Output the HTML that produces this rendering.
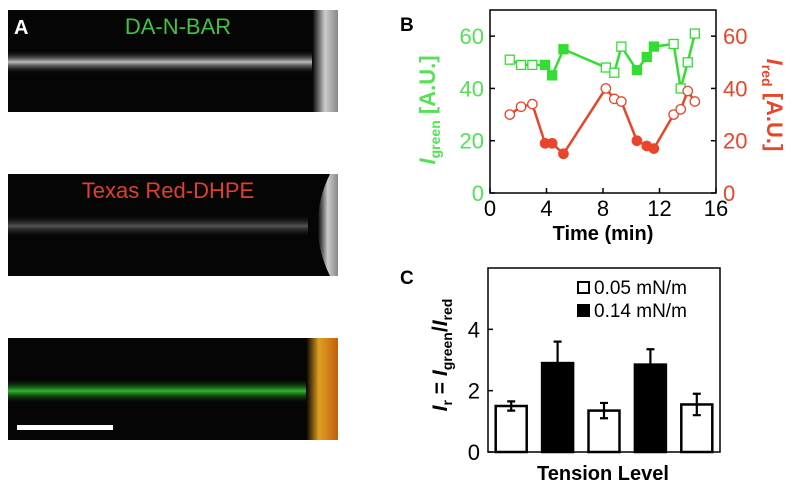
<!DOCTYPE html>
<html><head><meta charset="utf-8"><style>
body{margin:0;background:#fff;font-family:"Liberation Sans",sans-serif}
svg{display:block}
</style></head><body>
<svg width="800" height="493" viewBox="0 0 800 493" font-family="Liberation Sans, sans-serif">
<defs>
<linearGradient id="tubeW" x1="0" y1="0" x2="0" y2="1"><stop offset="0" stop-color="#000" stop-opacity="0"/><stop offset="0.5" stop-color="#bbb"/><stop offset="1" stop-color="#000" stop-opacity="0"/></linearGradient>
<linearGradient id="tubeW2" x1="0" y1="0" x2="0" y2="1"><stop offset="0" stop-color="#000" stop-opacity="0"/><stop offset="0.5" stop-color="#555"/><stop offset="1" stop-color="#000" stop-opacity="0"/></linearGradient>
<linearGradient id="tubeG" x1="0" y1="0" x2="0" y2="1"><stop offset="0" stop-color="#000" stop-opacity="0"/><stop offset="0.5" stop-color="#2eb82e"/><stop offset="1" stop-color="#000" stop-opacity="0"/></linearGradient>
<linearGradient id="edgeW" x1="0" y1="0" x2="1" y2="0"><stop offset="0" stop-color="#000"/><stop offset="0.5" stop-color="#ccc"/><stop offset="1" stop-color="#888"/></linearGradient>
<linearGradient id="edgeO" x1="0" y1="0" x2="1" y2="0"><stop offset="0" stop-color="#000"/><stop offset="0.4" stop-color="#e0a020"/><stop offset="1" stop-color="#c06010"/></linearGradient>
</defs>
<g>
<rect x="8" y="10" width="330" height="102" fill="#050505"/>
<rect x="8" y="50" width="310" height="24" fill="url(#tubeW)"/>
<rect x="312" y="10" width="26" height="102" fill="url(#edgeW)"/>
<text x="14" y="34" font-size="20" font-weight="bold" fill="#fff">A</text>
<text x="178" y="34" font-size="22" fill="#3ec43e" text-anchor="middle">DA-N-BAR</text>
<rect x="8" y="174" width="330" height="102" fill="#050505"/>
<rect x="8" y="214" width="300" height="24" fill="url(#tubeW2)"/>
<path d="M338 174 L330 174 Q305 225 330 276 L338 276 Z" fill="url(#edgeW)"/>
<text x="168" y="198" font-size="22" fill="#e0402a" text-anchor="middle">Texas Red-DHPE</text>
<rect x="8" y="338" width="330" height="102" fill="#050505"/>
<rect x="8" y="378" width="305" height="26" fill="url(#tubeG)"/>
<rect x="306" y="338" width="32" height="102" fill="url(#edgeO)"/>
<rect x="17" y="425" width="96" height="5" fill="#fff"/>
</g>
<g id="chartB"></g>
<g id="chartC"></g>
</svg>
<script>
const timeG=[1.4,2.2,3.0,3.9,4.4,5.2,8.2,8.8,9.3,10.4,11.1,11.6,13.0,13.5,14.0,14.5];
const greenVals=[51,49,49,49,45,55,48,46,56,47,52,56,57,40,50,61];
const redVals=[30,33,34,19,19,15,40,36,35,20,18,17,30,32,39,35];
const filledFlags=[0,0,0,1,1,1,0,0,0,1,1,1,0,0,0,0];
const xTicksB=[0,4,8,12,16];
const yTicksB=[0,20,40,60];
const barVals=[1.5,2.9,1.35,2.85,1.55];
const barErr=[0.15,0.7,0.25,0.5,0.35];
const barFill=[0,1,0,1,0];
const yTicksC=[0,2,4];
const NS="http://www.w3.org/2000/svg";
function mk(p,t,a,txt){const e=document.createElementNS(NS,t);for(const k in a)e.setAttribute(k,a[k]);if(txt!==undefined)e.textContent=txt;p.appendChild(e);return e;}
const GC='#55e055', RC='#e8452a';
// Panel B
const B=document.getElementById('chartB');
const bx0=490,bx1=716,by0=193,by1=10;
const xB=v=>bx0+(v/16)*(bx1-bx0), yB=v=>by0-(v/70)*(by0-by1);
let e=mk(B,'rect',{x:bx0,y:by1,width:bx1-bx0,height:by0-by1,fill:'none',stroke:'#000','stroke-width':1.5});


xTicksB.forEach(t=>{mk(B,'line',{x1:xB(t),x2:xB(t),y1:by0,y2:by0-5,stroke:'#000','stroke-width':1.5});
 e=mk(B,'text',{x:xB(t),y:by0+23,'font-size':22,'text-anchor':'middle',fill:'#000'},t);
 
 });
yTicksB.forEach(t=>{mk(B,'line',{x1:bx0,x2:bx0+5,y1:yB(t),y2:yB(t),stroke:'#000','stroke-width':1.5});
 mk(B,'line',{x1:bx1,x2:bx1-5,y1:yB(t),y2:yB(t),stroke:'#000','stroke-width':1.5});
 e=mk(B,'text',{x:bx0-6,y:yB(t)+8,'font-size':22,'text-anchor':'end',fill:GC},t);
 
 
 e=mk(B,'text',{x:bx1+7,y:yB(t)+8,'font-size':22,'text-anchor':'start',fill:RC},t);
 
 });
function series(vals,col,shape,name){
 let d=vals.map((v,i)=>(i?'L':'M')+xB(timeG[i])+' '+yB(v)).join(' ');
 e=mk(B,'path',{d:d,fill:'none',stroke:col,'stroke-width':2.5});
 
 
 vals.forEach((v,i)=>{const cx=xB(timeG[i]),cy=yB(v),f=filledFlags[i]?col:'#fff';
  if(shape==='sq') e=mk(B,'rect',{x:cx-4.5,y:cy-4.5,width:9,height:9,fill:f,stroke:col,'stroke-width':1.3});
  else e=mk(B,'circle',{cx:cx,cy:cy,r:4.7,fill:f,stroke:col,'stroke-width':1.3});
  
  });
}
series(greenVals,'#33dd33','sq','green');
series(redVals,RC,'ci','red');
e=mk(B,'text',{x:400,y:31,'font-size':19,'font-weight':'bold'},'B');


e=mk(B,'text',{x:603,y:240,'font-size':20,'font-weight':'bold','text-anchor':'middle'},'Time (min)');


e=mk(B,'text',{transform:'translate(435,110) rotate(-90)','font-size':22,'font-weight':'bold','text-anchor':'middle',fill:GC});
e.innerHTML='<tspan font-style="italic">I</tspan><tspan font-size="14" dy="5">green</tspan><tspan dy="-5"> [A.U.]</tspan>';


e=mk(B,'text',{transform:'translate(767,105) rotate(90)','font-size':22,'font-weight':'bold','text-anchor':'middle',fill:RC});
e.innerHTML='<tspan font-style="italic">I</tspan><tspan font-size="14" dy="5">red</tspan><tspan dy="-5"> [A.U.]</tspan>';


// Panel C
const C=document.getElementById('chartC');
const cx0=488,cx1=720,cy0=452,cy1=268;
const yC=v=>cy0-(v/6)*(cy0-cy1);
const bw=33, step=(cx1-cx0)/5;
e=mk(C,'rect',{x:cx0,y:cy1,width:cx1-cx0,height:cy0-cy1,fill:'none',stroke:'#000','stroke-width':1.5});


yTicksC.forEach(t=>{mk(C,'line',{x1:cx0,x2:cx0+5,y1:yC(t),y2:yC(t),stroke:'#000','stroke-width':1.5});
 e=mk(C,'text',{x:cx0-8,y:yC(t)+8,'font-size':22,'text-anchor':'end'},t);
 
 });
barVals.forEach((v,i)=>{const c=cx0+step*(i+0.5);
 e=mk(C,'rect',{x:c-bw/2+1,y:yC(v),width:bw-2,height:cy0-yC(v),fill:barFill[i]?'#000':'#fff',stroke:'#000','stroke-width':2.5});
 
 
 const lo=yC(v-barErr[i]),hi=yC(v+barErr[i]);
 e=mk(C,'path',{d:`M${c} ${lo}L${c} ${hi}M${c-4} ${hi}L${c+4} ${hi}M${c-4} ${lo}L${c+4} ${lo}`,stroke:'#000','stroke-width':2.2,fill:'none'});
 
 });
e=mk(C,'rect',{x:578,y:282,width:11,height:11,fill:'#fff',stroke:'#000','stroke-width':2});


e=mk(C,'text',{x:594,y:294,'font-size':19},'0.05 mN/m');


e=mk(C,'rect',{x:577,y:304,width:13,height:13,fill:'#000'});


e=mk(C,'text',{x:594,y:317,'font-size':19},'0.14 mN/m');


e=mk(C,'text',{x:400,y:284,'font-size':19,'font-weight':'bold'},'C');


e=mk(C,'text',{x:603,y:480,'font-size':20,'font-weight':'bold','text-anchor':'middle'},'Tension Level');


e=mk(C,'text',{transform:'translate(447,355) rotate(-90)','font-size':21,'font-weight':'bold','text-anchor':'middle'});
e.innerHTML='<tspan font-style="italic">I</tspan><tspan font-size="14" dy="5">r</tspan><tspan dy="-5"> = </tspan><tspan font-style="italic">I</tspan><tspan font-size="14" dy="5">green</tspan><tspan dy="-5">/</tspan><tspan font-style="italic">I</tspan><tspan font-size="14" dy="5">red</tspan>';


</script>
</body></html>
